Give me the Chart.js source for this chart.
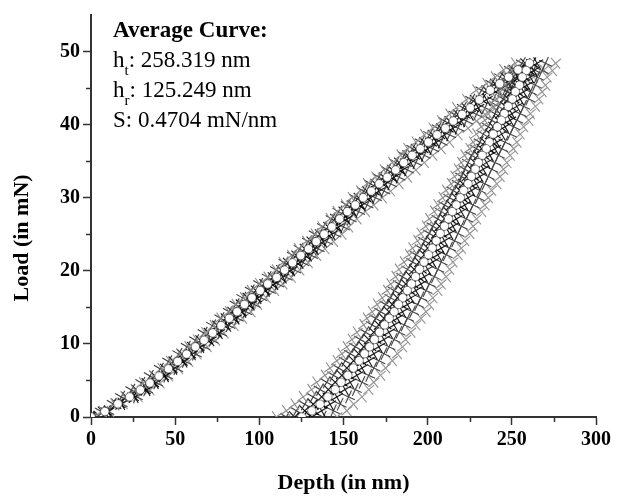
<!DOCTYPE html>
<html>
<head>
<meta charset="utf-8">
<title>Load vs Depth</title>
<script src="https://cdn.jsdelivr.net/npm/chart.js@4.4.1/dist/chart.umd.min.js"></script>
<style>
    html, body { margin: 0; padding: 0; background: #fff; }
    #wrap { position: relative; width: 633px; height: 499px; }
    #note {
        position: absolute; left: 113px; top: 15px;
        font-family: 'Liberation Serif', 'Times New Roman', serif;
        font-size: 23px; line-height: 30px; color: #000;
    }
    #note sub { font-size: 15px; vertical-align: -8px; line-height: 0; }
</style>
</head>
<body>
<div id="wrap">
    <canvas id="indentChart" width="633" height="499"></canvas>
    <div id="note">
        <div><b>Average Curve:</b></div>
        <div>h<sub>t</sub>: 258.319 nm</div>
        <div>h<sub>r</sub>: 125.249 nm</div>
        <div>S: 0.4704 mN/nm</div>
    </div>
</div>
<script>
// Ticks
const xTicksMinor = [25, 75, 125, 175, 225, 275];
const yTicksMinor = [5, 15, 25, 35, 45];

// Load levels (mN) shared by the tests and the average curve
const loadUp = [0, 0.75, 1.8, 2.75, 3.7, 4.65, 5.6, 6.6, 7.6, 8.6, 9.6, 10.5, 11.5, 12.5, 13.5, 14.4, 15.4, 16.3, 17.3, 18.2, 19.1, 20.1, 21.1, 22.1, 23.0, 24.0, 25.0, 26.0, 27.1, 28.1, 29.0, 30.0, 30.9, 31.9, 32.8, 33.8, 34.8, 35.8, 36.7, 37.6, 38.6, 39.5, 40.5, 41.4, 42.3, 43.4, 44.7, 45.6, 46.5, 47.5, 48.4];
const loadDown = [47.4, 46.5, 45.4, 44.5, 43.5, 42.5, 41.5, 40.6, 39.7, 38.7, 37.6, 36.7, 35.8, 34.8, 33.9, 32.9, 31.9, 31.0, 30.0, 29.0, 28.1, 27.1, 26.1, 25.1, 24.1, 23.1, 22.2, 21.2, 20.2, 19.2, 18.2, 17.3, 16.3, 15.4, 14.4, 13.5, 12.6, 11.6, 10.6, 9.6, 8.65, 7.7, 6.7, 5.7, 4.75, 3.75, 2.75, 1.75, 0.85, 0];

// Average curve depth (nm)
const avgUp = [0, 8.2, 16, 23, 29.3, 35, 40.4, 46, 51.5, 56.8, 62, 67.2, 72.3, 77.3, 82.2, 86.8, 91.2, 95.6, 100.5, 105, 110.3, 115, 119.7, 124.6, 129.2, 133.8, 138.5, 143.1, 147.7, 152.3, 157, 161.7, 166.5, 171.2, 176, 181, 185.8, 190.8, 195.6, 200.4, 205.6, 210.5, 215.2, 220.5, 225.3, 230.7, 237.2, 242.8, 248.1, 253.7, 260.5];
const avgDown = [258.6, 256.2, 254.5, 252.1, 250.3, 247.9, 245.5, 243.8, 241.4, 239, 236.6, 234.8, 232.4, 230.2, 228.3, 226, 224, 221.4, 219.4, 217, 214.6, 212.4, 210, 207.5, 205.1, 202.7, 200.5, 197.8, 195.2, 192.8, 190.4, 187.9, 185.2, 182.7, 180.1, 177.2, 174.4, 171.4, 168.4, 165.5, 162.5, 159.3, 155.9, 152.6, 148.6, 145.1, 140.7, 136.1, 131.2, 125.3];

// Individual tests, depth (nm)
const test1Up = [0, 7, 14, 20, 26, 31, 37, 42, 47, 53, 58, 63, 68, 73, 77, 82, 86, 91, 95, 100, 105, 110, 114, 119, 123, 128, 133, 137, 142, 146, 151, 155, 160, 164, 169, 174, 179, 184, 188, 193, 198, 203, 208, 213, 217, 223, 229, 235, 240, 245, 252];
const test1Down = [250, 247, 246, 243, 241, 239, 236, 234, 232, 229, 227, 225, 222, 220, 218, 216, 214, 211, 209, 206, 204, 201, 199, 196, 194, 191, 189, 186, 183, 181, 178, 176, 173, 170, 167, 164, 162, 158, 155, 152, 149, 146, 142, 139, 134, 131, 126, 121, 116, 110];
const test2Up = [0, 6, 13, 18, 24, 30, 35, 41, 46, 52, 57, 62, 67, 72, 77, 82, 86, 90, 95, 100, 105, 110, 115, 120, 124, 129, 133, 138, 143, 147, 152, 157, 162, 166, 171, 176, 181, 186, 191, 196, 201, 206, 210, 216, 221, 226, 232, 238, 243, 249, 256];
const test2Down = [253, 251, 249, 247, 245, 242, 240, 238, 236, 233, 231, 229, 226, 224, 222, 220, 218, 215, 213, 210, 208, 206, 203, 201, 198, 196, 193, 191, 188, 185, 183, 180, 178, 175, 172, 169, 167, 163, 160, 157, 154, 151, 147, 144, 140, 136, 132, 127, 122, 116];
const test3Up = [0, 7, 15, 21, 27, 33, 38, 44, 49, 54, 60, 65, 70, 75, 80, 84, 89, 93, 98, 103, 108, 113, 117, 122, 127, 131, 136, 141, 145, 150, 155, 159, 164, 169, 174, 179, 183, 188, 193, 198, 203, 208, 213, 218, 223, 228, 235, 240, 246, 251, 258];
const test3Down = [257, 254, 252, 250, 248, 246, 243, 242, 239, 237, 234, 232, 230, 228, 226, 223, 221, 219, 217, 214, 212, 210, 207, 205, 202, 200, 198, 195, 192, 190, 187, 185, 182, 179, 177, 174, 171, 168, 165, 162, 159, 156, 152, 149, 145, 141, 137, 132, 127, 121];
const test4Up = [0, 9, 17, 25, 32, 37, 43, 48, 54, 59, 64, 69, 74, 79, 84, 89, 93, 98, 103, 107, 112, 117, 122, 127, 131, 136, 140, 145, 150, 154, 159, 163, 168, 173, 178, 183, 187, 192, 197, 202, 207, 212, 217, 222, 227, 232, 239, 244, 249, 255, 262];
const test4Down = [260, 257, 256, 253, 251, 249, 247, 245, 243, 240, 238, 236, 233, 231, 229, 227, 225, 222, 220, 218, 216, 213, 211, 208, 206, 204, 201, 199, 196, 194, 191, 189, 186, 184, 181, 178, 175, 172, 169, 166, 163, 160, 157, 153, 149, 146, 141, 137, 132, 126];
const test5Up = [0, 10, 18, 26, 33, 38, 44, 49, 55, 60, 65, 71, 76, 81, 86, 90, 95, 99, 104, 109, 114, 119, 124, 129, 133, 138, 143, 147, 152, 156, 161, 166, 171, 175, 180, 185, 190, 195, 200, 205, 210, 215, 220, 225, 230, 235, 242, 248, 253, 259, 265];
const test5Down = [263, 261, 259, 257, 255, 253, 250, 249, 246, 244, 241, 240, 237, 235, 233, 231, 229, 226, 224, 222, 220, 217, 215, 213, 210, 208, 206, 203, 200, 198, 196, 193, 190, 188, 185, 182, 180, 177, 174, 171, 168, 165, 161, 158, 154, 151, 146, 142, 137, 131];
const test6Up = [0, 10, 18, 27, 33, 39, 45, 51, 56, 62, 67, 72, 77, 82, 87, 92, 97, 101, 106, 111, 116, 121, 126, 131, 135, 140, 145, 150, 154, 159, 164, 169, 174, 178, 183, 188, 193, 198, 203, 208, 213, 218, 223, 229, 234, 239, 246, 251, 257, 263, 270];
const test6Down = [268, 265, 264, 261, 260, 257, 255, 253, 251, 249, 246, 244, 242, 240, 238, 236, 234, 231, 230, 227, 225, 223, 220, 218, 216, 213, 211, 208, 206, 204, 201, 199, 196, 194, 191, 188, 186, 183, 180, 177, 174, 171, 168, 165, 161, 157, 153, 148, 144, 138];
const test7Up = [0, 11, 19, 28, 35, 41, 46, 52, 58, 63, 69, 74, 79, 85, 90, 95, 99, 104, 109, 114, 119, 124, 129, 134, 139, 144, 149, 153, 158, 163, 168, 173, 178, 183, 188, 193, 198, 203, 208, 213, 218, 224, 229, 234, 239, 245, 251, 257, 263, 269, 276];
const test7Down = [274, 271, 270, 268, 266, 264, 261, 260, 257, 255, 253, 251, 249, 247, 245, 243, 241, 238, 236, 234, 232, 229, 227, 225, 222, 220, 218, 215, 213, 211, 208, 206, 203, 201, 199, 196, 193, 190, 187, 185, 182, 179, 175, 172, 168, 165, 161, 156, 152, 146];

const testUp = [test1Up, test2Up, test3Up, test4Up, test5Up, test6Up, test7Up];
const testDown = [test1Down, test2Down, test3Down, test4Down, test5Down, test6Down, test7Down];

// Marker look for each test (lighter at the edges, dark near the mean)
const testColors = ['#8c8c8c', '#3a3a3a', '#101010', '#000000', '#141414', '#444444', '#949494'];
const testLineColors = ['rgba(140,140,140,0.3)', 'rgba(58,58,58,0.3)', 'rgba(16,16,16,0.3)', 'rgba(0,0,0,0.3)', 'rgba(20,20,20,0.3)', 'rgba(68,68,68,0.3)', 'rgba(148,148,148,0.3)'];
const testStyles = ['crossRot', 'cross', 'crossRot', 'cross', 'crossRot', 'cross', 'crossRot'];
const testRotation = [10, 30, 0, 35, 15, 25, 5];

const axisColor = '#333';
const serif = "'Liberation Serif', 'Times New Roman', serif";

function toPoints(depths, loads) {
    return depths.map(function(d, i) { return { x: d, y: loads[i] }; });
}

// Minor ticks and the rotated y title
const extrasPlugin = {
    id: 'extras',
    afterDraw: function(chart) {
        const ctx = chart.ctx;
        const xs = chart.scales.x;
        const ys = chart.scales.y;
        ctx.save();
        ctx.strokeStyle = axisColor;
        ctx.lineWidth = 1.5;
        xTicksMinor.forEach(function(v) {
            const px = Math.round(xs.getPixelForValue(v)) + 0.5;
            ctx.beginPath();
            ctx.moveTo(px, ys.bottom);
            ctx.lineTo(px, ys.bottom + 5);
            ctx.stroke();
        });
        yTicksMinor.forEach(function(v) {
            const py = Math.round(ys.getPixelForValue(v)) + 0.5;
            ctx.beginPath();
            ctx.moveTo(xs.left, py);
            ctx.lineTo(xs.left - 5, py);
            ctx.stroke();
        });
        ctx.translate(22, ys.getPixelForValue(24.5));
        ctx.rotate(-Math.PI / 2);
        ctx.font = 'bold 22px ' + serif;
        ctx.fillStyle = '#000';
        ctx.textAlign = 'center';
        ctx.textBaseline = 'middle';
        ctx.fillText('Load (in mN)', 0, 0);
        ctx.restore();
    }
};

function initializeChart() {
    const datasets = [{
        label: 'Average Curve',
        data: toPoints(avgUp, loadUp).concat(toPoints(avgDown, loadDown)),
        pointStyle: 'circle',
        pointRadius: 4.2,
        pointBackgroundColor: '#fff',
        pointBorderColor: '#333',
        pointBorderWidth: 0.6,
        order: 0
    }];
    testUp.forEach(function(up, i) {
        datasets.push({
            label: 'Test ' + (i + 1),
            data: toPoints(up, loadUp).concat(toPoints(testDown[i], loadDown)),
            showLine: true,
            borderColor: testLineColors[i],
            borderWidth: 0.6,
            pointStyle: testStyles[i],
            pointRotation: testRotation[i],
            pointRadius: 7,
            pointBorderColor: testColors[i],
            pointBackgroundColor: testColors[i],
            pointBorderWidth: 1.1,
            order: 1
        });
    });

    const tickFont = { family: serif, size: 20, weight: 'bold' };

    new Chart(document.getElementById('indentChart'), {
        type: 'scatter',
        data: { datasets: datasets },
        plugins: [extrasPlugin],
        options: {
            responsive: false,
            animation: false,
            layout: { padding: { top: 8, right: 37, left: 0, bottom: 0 } },
            plugins: {
                legend: { display: false },
                tooltip: { enabled: false }
            },
            scales: {
                x: {
                    type: 'linear',
                    min: 0,
                    max: 300,
                    afterFit: function(s) { s.height = 82; },
                    ticks: { stepSize: 50, color: '#000', font: tickFont, padding: 3 },
                    grid: { drawOnChartArea: false, tickLength: 8, tickColor: axisColor, tickWidth: 1.5 },
                    border: { color: axisColor, width: 2 },
                    title: {
                        display: true,
                        text: 'Depth (in nm)',
                        color: '#000',
                        font: { family: serif, size: 22, weight: 'bold' },
                        padding: { top: 0, bottom: 2 }
                    }
                },
                y: {
                    type: 'linear',
                    min: 0,
                    max: 55,
                    afterFit: function(s) { s.width = 91; },
                    ticks: { stepSize: 10, includeBounds: false, color: '#000', font: tickFont, padding: 3 },
                    grid: { drawOnChartArea: false, tickLength: 8, tickColor: axisColor, tickWidth: 1.5 },
                    border: { color: axisColor, width: 2 },
                    title: { display: false }
                }
            }
        }
    });
}

document.addEventListener('DOMContentLoaded', function() {
    initializeChart();
});
</script>
</body>
</html>
